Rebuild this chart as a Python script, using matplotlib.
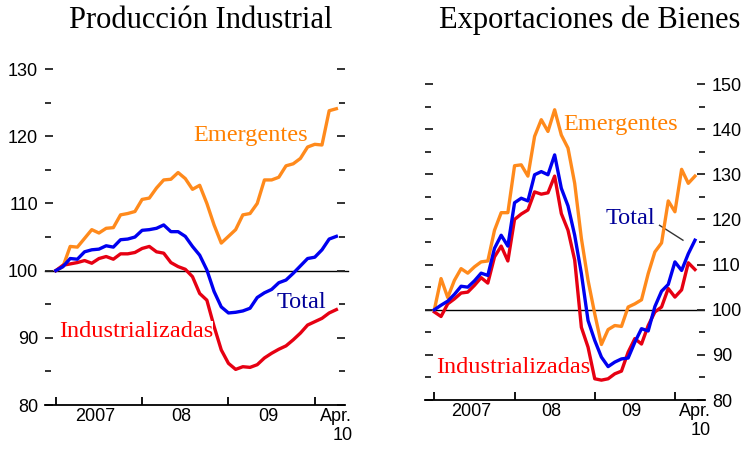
import matplotlib
matplotlib.use("Agg")
import matplotlib.pyplot as plt
from matplotlib.ticker import FixedLocator

# monthly index: 0 = Jan 2007 ... 39 = Apr 2010
months = list(range(40))

# Producción industrial (index, Jan 2007 = 100)
prod_emergentes = [100.0, 100.6, 103.6, 103.5, 104.8, 106.1, 105.6, 106.3, 106.4, 108.3,
                   108.5, 108.8, 110.6, 110.8, 112.3, 113.5, 113.6, 114.6, 113.7, 112.1,
                   112.7, 110.0, 106.8, 104.1, 105.1, 106.1, 108.3, 108.5, 110.0, 113.5,
                   113.5, 113.9, 115.6, 115.9, 116.7, 118.4, 118.8, 118.7, 123.8, 124.1]
prod_total = [100.0, 100.6, 101.8, 101.7, 102.8, 103.1, 103.2, 103.7, 103.5, 104.6,
              104.7, 105.0, 106.0, 106.1, 106.3, 106.8, 105.8, 105.8, 105.1, 103.6,
              102.3, 100.1, 96.9, 94.6, 93.7, 93.8, 94.0, 94.4, 96.0, 96.7,
              97.2, 98.2, 98.6, 99.6, 100.7, 101.8, 102.0, 103.1, 104.7, 105.1]
prod_industrializadas = [100.0, 100.8, 101.0, 101.2, 101.5, 101.1, 101.8, 102.1, 101.7, 102.5,
                         102.5, 102.7, 103.3, 103.6, 102.8, 102.6, 101.2, 100.6, 100.2, 99.1,
                         96.6, 95.6, 91.7, 88.2, 86.2, 85.3, 85.7, 85.6, 86.0, 87.0,
                         87.7, 88.3, 88.8, 89.7, 90.7, 91.9, 92.4, 92.9, 93.7, 94.2]

# Exportaciones de bienes (index, Jan 2007 = 100)
exp_emergentes = [100.0, 106.9, 102.7, 106.5, 109.1, 108.1, 109.5, 110.6, 110.8, 117.6,
                  121.5, 121.5, 131.9, 132.1, 129.6, 138.4, 142.1, 139.5, 144.3, 138.7,
                  135.8, 128.0, 115.8, 106.5, 99.1, 92.3, 95.6, 96.5, 96.3, 100.6,
                  101.3, 102.2, 108.0, 112.8, 114.8, 124.1, 121.7, 131.1, 128.0, 129.6]
exp_total = [100.0, 101.0, 101.9, 103.4, 105.2, 105.0, 106.4, 108.1, 107.6, 113.6,
             116.5, 114.1, 123.7, 124.7, 124.1, 129.9, 130.6, 129.9, 134.3, 126.9,
             123.0, 116.5, 108.0, 97.6, 93.2, 89.5, 87.4, 88.4, 89.1, 89.3,
             92.8, 95.8, 95.3, 100.7, 104.1, 105.6, 110.6, 108.7, 112.4, 115.4]
exp_industrializadas = [99.5, 98.5, 101.3, 102.4, 103.7, 103.9, 105.4, 107.1, 105.9, 111.7,
                        114.1, 110.8, 120.0, 121.2, 122.1, 126.1, 125.6, 125.9, 129.6, 121.3,
                        117.6, 111.0, 96.1, 91.7, 84.7, 84.4, 84.7, 85.8, 86.4, 90.6,
                        93.6, 92.4, 96.5, 99.5, 100.6, 104.7, 102.8, 104.4, 110.4, 108.9]

year_ticks = [0, 12, 24, 36]
year_label_pos = [5.5, 17.5, 29.5, 39]
year_labels = ["2007", "08", "09", "Apr.\n10"]

C_ORANGE = "#FF8A1C"
C_BLUE = "#0000F0"
C_RED = "#E60012"
TXT_ORANGE = "#FF8000"
TXT_BLUE = "#000099"
TXT_RED = "#FF0000"

SERIF = ["Liberation Serif", "DejaVu Serif"]
SANS = ["Liberation Sans", "DejaVu Sans"]


def style_axis(ax, ylim, xlim, major, minor, label_side):
    ax.set_xlim(*xlim)
    ax.set_ylim(*ylim)
    for side in ["top", "left", "right"]:
        ax.spines[side].set_visible(False)
    ax.spines["bottom"].set_linewidth(1.3)

    ax.xaxis.set_major_locator(FixedLocator(year_ticks))
    ax.xaxis.set_minor_locator(FixedLocator(year_label_pos))
    ax.set_xticklabels([], minor=False)
    ax.set_xticklabels(year_labels, minor=True, family=SANS, fontsize=13,
                       multialignment="right")
    ax.tick_params(axis="x", which="major", direction="in", length=6, width=1.3, color="black")
    ax.tick_params(axis="x", which="minor", length=0, pad=2)

    ax.yaxis.set_major_locator(FixedLocator(major))
    ax.yaxis.set_minor_locator(FixedLocator(minor))
    ax.tick_params(axis="y", which="both", direction="in", left=True, right=True,
                   width=1.3, color="#222222")
    ax.tick_params(axis="y", which="major", length=6, pad=5,
                   labelleft=(label_side == "left"), labelright=(label_side == "right"))
    ax.tick_params(axis="y", which="minor", length=4)
    for lab in ax.get_yticklabels():
        lab.set_family(SANS)
        lab.set_fontsize(13)


fig = plt.figure(figsize=(7.46, 4.53), dpi=100)

# --- Producción Industrial ---
ax1 = fig.add_axes([45 / 746, 1 - 405 / 453, 300 / 746, 346 / 453])
ax1.axhline(100, color="black", lw=1.0, xmin=0, xmax=1.01, clip_on=False, zorder=1)
ax1.plot(months, prod_emergentes, color=C_ORANGE, lw=2.4, zorder=3)
ax1.plot(months, prod_industrializadas, color=C_RED, lw=2.4, zorder=3)
ax1.plot(months, prod_total, color=C_BLUE, lw=2.4, zorder=4)
style_axis(ax1, (80, 131.5), (-1.5, 40.2), [80, 90, 100, 110, 120, 130],
           [85, 95, 105, 115, 125], "left")
ax1.text(27.1, 120.1, "Emergentes", color=TXT_ORANGE, family=SERIF, fontsize=17.5,
         ha="center", va="center")
ax1.text(34.1, 95.3, "Total", color=TXT_BLUE, family=SERIF, fontsize=17.5,
         ha="center", va="center")
ax1.text(11.2, 90.9, "Industrializadas", color=TXT_RED, family=SERIF, fontsize=17.5,
         ha="center", va="center", zorder=5,
         bbox=dict(facecolor="white", edgecolor="none", pad=0))

# --- Exportaciones de Bienes ---
ax2 = fig.add_axes([425 / 746, 1 - 400 / 453, 280 / 746, 325 / 453])
ax2.axhline(100, color="black", lw=1.0, zorder=1)
ax2.plot(months, exp_emergentes, color=C_ORANGE, lw=2.4, zorder=3)
ax2.plot(months, exp_industrializadas, color=C_RED, lw=2.4, zorder=3)
ax2.plot(months, exp_total, color=C_BLUE, lw=2.4, zorder=4)
style_axis(ax2, (80, 152), (-1.4, 40.5), [80, 90, 100, 110, 120, 130, 140, 150],
           [85, 95, 105, 115, 125, 135, 145], "right")
ax2.text(27.8, 141.1, "Emergentes", color=TXT_ORANGE, family=SERIF, fontsize=17.5,
         ha="center", va="center")
ax2.text(29.4, 120.1, "Total", color=TXT_BLUE, family=SERIF, fontsize=17.5,
         ha="center", va="center")
ax2.plot([33.7, 37.2], [118.7, 115.4], color="#333333", lw=1.0, zorder=2)
ax2.text(11.8, 87.3, "Industrializadas", color=TXT_RED, family=SERIF, fontsize=17.5,
         ha="center", va="center")

fig.text(201 / 746, 1 - 20 / 453, "Producción Industrial", family=SERIF, fontsize=22,
         ha="center", va="center")
fig.text(590 / 746, 1 - 20 / 453, "Exportaciones de Bienes", family=SERIF, fontsize=22,
         ha="center", va="center")

fig.savefig("out.png", dpi=100)
